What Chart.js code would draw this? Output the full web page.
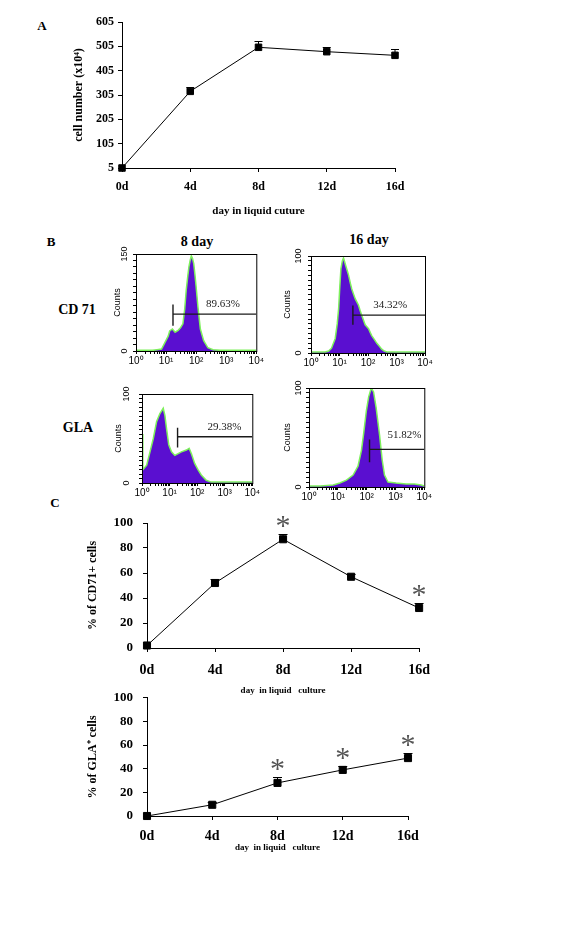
<!DOCTYPE html>
<html>
<head>
<meta charset="utf-8">
<script src="https://cdn.jsdelivr.net/npm/chart.js@4.4.1/dist/chart.umd.min.js"></script>
<style>
body { margin: 0; background: #fff; }
#fig { position: relative; width: 562px; height: 948px; background: #fff; overflow: hidden; }
#fig canvas { position: absolute; }
.lbl { position: absolute; font-family: "Liberation Serif", serif; font-weight: bold; color: #000; white-space: nowrap; transform: translate(-50%, -50%); }
</style>
</head>
<body>
<div id="fig">
  <div class="lbl" style="left:42px;top:26px;font-size:13px">A</div>
  <div class="lbl" style="left:51px;top:242px;font-size:13px">B</div>
  <div class="lbl" style="left:197px;top:242px;font-size:14px">8 day</div>
  <div class="lbl" style="left:369px;top:240px;font-size:14px">16 day</div>
  <div class="lbl" style="left:77px;top:310px;font-size:14px">CD 71</div>
  <div class="lbl" style="left:78px;top:428px;font-size:14px">GLA</div>
  <div class="lbl" style="left:55px;top:503px;font-size:13px">C</div>

  <canvas id="chartA" width="430" height="230" style="left:0;top:0"></canvas>
  <canvas id="h1" width="165" height="130" style="left:100px;top:244px"></canvas>
  <canvas id="h2" width="160" height="130" style="left:275px;top:246px"></canvas>
  <canvas id="h3" width="155" height="120" style="left:106px;top:384px"></canvas>
  <canvas id="h4" width="160" height="130" style="left:273px;top:378px"></canvas>
  <canvas id="chartC1" width="440" height="200" style="left:0;top:500px"></canvas>
  <canvas id="chartC2" width="440" height="180" style="left:0;top:680px"></canvas>
</div>
<script>
// panel A / C : days in liquid culture
var days = ['0d', '4d', '8d', '12d', '16d'];
var cellNumber = [5, 320, 501, 483, 468];
var cellNumberErr = [0, 18, 24, 19, 25];
var cellTicks = [5, 105, 205, 305, 405, 505, 605];

var cd71Percent = [2, 52, 87, 57, 32];
var cd71Err = [0, 3.5, 4, 2, 4];
var cd71Star = [false, false, true, false, true];

var glaPercent = [0, 9.5, 28, 39, 49];
var glaErr = [0, 2.5, 5, 3.5, 4.5];
var glaStar = [false, false, true, true, true];

// panel B : flow histograms, x = log10 fluorescence, y = counts
var cd71D8Log   = [0, 0.3, 0.55, 0.7, 0.85, 0.96, 1.07, 1.12, 1.21, 1.3, 1.4, 1.48, 1.56, 1.62, 1.67, 1.72, 1.76, 1.8, 1.84, 1.88, 1.92, 1.96, 2.0, 2.06, 2.14, 2.25, 2.39, 2.56, 2.8, 3.2, 3.6, 4.0];
var cd71D8Count = [1, 1, 1, 2, 3, 13, 23, 31, 34, 29, 32, 36, 42, 65, 94, 115, 130, 140, 147, 143, 135, 118, 99, 68, 34, 16, 5, 2, 1, 1, 1, 1];
var cd71D8Gate = [1.23, 57, 39, 72];
var cd71D8Label = [2.89, 73];

var cd71D16Log   = [0, 0.3, 0.5, 0.62, 0.72, 0.85, 0.92, 0.97, 1.01, 1.05, 1.1, 1.14, 1.18, 1.22, 1.27, 1.32, 1.38, 1.43, 1.5, 1.55, 1.62, 1.67, 1.72, 1.78, 1.84, 1.9, 1.96, 2.02, 2.08, 2.13, 2.22, 2.31, 2.4, 2.48, 2.57, 2.66, 3.0, 3.5, 4.0];
var cd71D16Count = [1, 1, 1, 2, 5, 15, 30, 46, 68, 87, 95, 98, 94, 90, 85, 80, 72, 66, 60, 56, 52, 49, 44, 39, 34, 29, 27, 25, 21, 18, 14, 10, 7, 4, 2, 1, 1, 1, 1];
var cd71D16Gate = [1.47, 39, 29, 49];
var cd71D16Label = [2.78, 49];

var glaD8Log   = [0, 0.03, 0.17, 0.29, 0.41, 0.53, 0.65, 0.77, 0.83, 0.89, 0.97, 1.07, 1.19, 1.31, 1.43, 1.61, 1.71, 1.79, 1.91, 2.03, 2.15, 2.33, 2.51, 3.0, 3.5, 4.0];
var glaD8Count = [55, 15, 20, 35, 50, 69, 78, 84, 76, 61, 43, 35, 31, 33, 35, 37, 39, 33, 22, 15, 9, 3, 1, 1, 1, 1];
var glaD8Gate = [1.29, 52, 40, 62];
var glaD8Label = [2.99, 63];

var glaD16Log   = [0, 0.4, 0.84, 1.07, 1.3, 1.53, 1.7, 1.82, 1.9, 1.99, 2.07, 2.16, 2.24, 2.33, 2.45, 2.54, 2.62, 2.74, 3.02, 3.37, 3.66, 3.89, 4.0];
var glaD16Count = [1, 1, 2, 4, 7, 12, 21, 37, 55, 77, 91, 100, 96, 80, 52, 27, 12, 5, 4, 3, 3, 2, 1];
var glaD16Gate = [2.10, 38, 25, 48];
var glaD16Label = [3.31, 52];

var serif = '"Liberation Serif", "Times New Roman", serif';
var sans = '"Liberation Sans", Arial, sans-serif';
var sup = ['\u2070', '\u00b9', '\u00b2', '\u00b3', '\u2074'];

Chart.register({
    id: 'errorBars',
    beforeDatasetsDraw: function (chart, args, opts) {
        if (!opts.err) return;
        var meta = chart.getDatasetMeta(0);
        var y = chart.scales.y;
        var vals = chart.data.datasets[0].data;
        var ctx = chart.ctx;
        ctx.save();
        ctx.strokeStyle = '#000';
        ctx.lineWidth = 1;
        meta.data.forEach(function (pt, i) {
            if (!opts.err[i]) return;
            var top = Math.round(y.getPixelForValue(vals[i] + opts.err[i])) + 0.5;
            ctx.beginPath();
            ctx.moveTo(pt.x, pt.y);
            ctx.lineTo(pt.x, top);
            ctx.moveTo(pt.x - opts.cap, top);
            ctx.lineTo(pt.x + opts.cap, top);
            ctx.stroke();
        });
        ctx.restore();
    },
    afterDatasetsDraw: function (chart, args, opts) {
        if (!opts.stars) return;
        var meta = chart.getDatasetMeta(0);
        var y = chart.scales.y;
        var vals = chart.data.datasets[0].data;
        var ctx = chart.ctx;
        ctx.save();
        ctx.fillStyle = '#555';
        ctx.font = '30px ' + serif;
        ctx.textAlign = 'center';
        ctx.textBaseline = 'alphabetic';
        meta.data.forEach(function (pt, i) {
            if (!opts.stars[i]) return;
            var top = y.getPixelForValue(vals[i] + opts.err[i]);
            ctx.fillText('*', pt.x, top + 1);
        });
        ctx.restore();
    }
});

Chart.register({
    id: 'flowBox',
    afterDraw: function (chart, args, opts) {
        if (!opts.yLabels) return;
        var a = chart.chartArea, ctx = chart.ctx;
        ctx.save();
        ctx.strokeStyle = '#000';
        ctx.lineWidth = 1;
        ctx.strokeRect(a.left + 0.5, a.top + 0.5, a.right - a.left, a.bottom - a.top);
        // rotated count labels
        ctx.fillStyle = '#000';
        ctx.font = '9px ' + sans;
        ctx.textAlign = 'center';
        ctx.textBaseline = 'middle';
        opts.yLabels.forEach(function (v) {
            var py = chart.scales.y.getPixelForValue(v);
            ctx.save();
            ctx.translate(a.left - opts.labelOffset, py);
            ctx.rotate(-Math.PI / 2);
            ctx.fillText(String(v), 0, 0);
            ctx.restore();
        });
        // gate percentage
        ctx.fillStyle = '#222';
        ctx.font = '11px ' + serif;
        ctx.fillText(opts.text, chart.scales.x.getPixelForValue(Math.pow(10, opts.at[0])),
            chart.scales.y.getPixelForValue(opts.at[1]));
        ctx.restore();
    }
});

function dayChart(id, values, err, stars, ticks, box) {
    var yScale = {
        min: ticks[0], max: ticks[ticks.length - 1],
        afterBuildTicks: function (s) { s.ticks = ticks.map(function (v) { return { value: v }; }); },
        afterFit: function (s) { s.width = box.left; },
        grid: { drawOnChartArea: false, tickLength: 4, color: '#000' },
        border: { color: '#000' },
        ticks: { color: '#000', font: { family: serif, weight: 'bold', size: box.yFont }, padding: box.yPad },
        title: { display: true, text: box.yTitle, color: '#000', font: { family: serif, weight: 'bold', size: 12 }, padding: { top: box.yTitlePad } }
    };
    return new Chart(document.getElementById(id), {
        type: 'line',
        data: {
            labels: days,
            datasets: [{
                data: values, borderColor: '#000', borderWidth: 1, tension: 0, clip: false,
                pointStyle: 'rect', pointRadius: box.pr, pointBackgroundColor: '#000', pointBorderColor: '#000'
            }]
        },
        options: {
            responsive: false, animation: false, events: [],
            layout: { padding: { left: 0, top: box.top, right: box.right, bottom: 0 } },
            plugins: {
                legend: { display: false }, tooltip: { enabled: false },
                errorBars: { err: err, cap: box.cap, stars: stars }
            },
            scales: {
                x: {
                    afterFit: function (s) { s.height = box.xh; },
                    grid: { drawOnChartArea: false, tickLength: 4, color: '#000' },
                    border: { color: '#000' },
                    ticks: { color: '#000', font: { family: serif, weight: 'bold', size: box.xFont }, padding: box.xPad, maxRotation: 0 },
                    title: { display: true, text: box.xTitle, color: '#000', font: { family: serif, weight: 'bold', size: box.xTitleSize }, padding: { top: 0, bottom: box.xTitlePad } }
                },
                y: yScale
            }
        }
    });
}

dayChart('chartA', cellNumber, cellNumberErr, null, cellTicks, {
    left: 122, top: 22, right: 35, xh: 62, pr: 4.6, cap: 4,
    yFont: 12, yPad: 4, yTitle: 'cell number (x10\u2074)', yTitlePad: 72,
    xFont: 12, xPad: 8, xTitle: 'day in liquid cuture', xTitleSize: 11, xTitlePad: 12
});

dayChart('chartC1', cd71Percent, cd71Err, cd71Star, [0, 20, 40, 60, 80, 100], {
    left: 147, top: 23, right: 20, xh: 52, pr: 5, cap: 4.5,
    yFont: 13, yPad: 10, yTitle: '% of CD71+ cells', yTitlePad: 86,
    xFont: 14, xPad: 10, xTitle: 'day  in liquid   culture', xTitleSize: 9, xTitlePad: 4
});

dayChart('chartC2', glaPercent, glaErr, glaStar, [0, 20, 40, 60, 80, 100], {
    left: 147, top: 10, right: 32, xh: 44, pr: 5, cap: 4.5,
    yFont: 13, yPad: 10, yTitle: '% of GLA\u207a cells', yTitlePad: 86,
    xFont: 14, xPad: 8, xTitle: 'day  in liquid   culture', xTitleSize: 9, xTitlePad: 7
});

function histChart(id, logs, counts, gate, labelAt, text, yMax, yStep, box) {
    var gx = Math.pow(10, gate[0]);
    return new Chart(document.getElementById(id), {
        type: 'scatter',
        data: {
            datasets: [{
                data: logs.map(function (e, i) { return { x: Math.pow(10, e), y: counts[i] }; }),
                showLine: true, fill: 'origin', tension: 0, pointRadius: 0, order: 2,
                borderColor: '#7ef05c', borderWidth: 1.5, backgroundColor: '#5a0fd0'
            }, {
                data: [{ x: gx, y: gate[1] }, { x: 10000, y: gate[1] }],
                showLine: true, pointRadius: 0, borderColor: '#1a1a1a', borderWidth: 1.4, fill: false, order: 1
            }, {
                data: [{ x: gx, y: gate[2] }, { x: gx, y: gate[3] }],
                showLine: true, pointRadius: 0, borderColor: '#1a1a1a', borderWidth: 1.4, fill: false, order: 1
            }]
        },
        options: {
            responsive: false, animation: false, events: [],
            layout: { padding: { left: 0, top: box.top, right: box.right, bottom: 0 } },
            plugins: {
                legend: { display: false }, tooltip: { enabled: false },
                flowBox: { yLabels: [0, yMax], labelOffset: box.labelOffset, text: text, at: labelAt }
            },
            scales: {
                x: {
                    type: 'logarithmic', min: 1, max: 10000,
                    afterBuildTicks: function (s) {
                        var t = [];
                        for (var e = 0; e < 4; e++) {
                            for (var k = 1; k < 10; k++) t.push({ value: k * Math.pow(10, e) });
                        }
                        t.push({ value: 10000 });
                        s.ticks = t;
                    },
                    afterFit: function (s) { s.height = box.xh; },
                    grid: { drawOnChartArea: false, tickLength: 3, color: '#000' },
                    border: { color: '#000' },
                    ticks: {
                        color: '#000', font: { family: sans, size: 10 }, padding: 1, autoSkip: false, maxRotation: 0,
                        callback: function (v) {
                            var e = Math.log10(v);
                            return Math.abs(e - Math.round(e)) < 1e-9 ? '10' + sup[Math.round(e)] : '';
                        }
                    }
                },
                y: {
                    min: 0, max: yMax,
                    afterBuildTicks: function (s) {
                        var t = [];
                        for (var v = 0; v <= yMax; v += yStep) t.push({ value: v });
                        s.ticks = t;
                    },
                    afterFit: function (s) { s.width = 36; },
                    grid: { drawOnChartArea: false, tickLength: 3, color: '#000' },
                    border: { color: '#000' },
                    ticks: { display: false },
                    title: { display: true, text: 'Counts', color: '#000', font: { family: sans, size: 9 }, padding: { top: box.titlePad } }
                }
            }
        }
    });
}

histChart('h1', cd71D8Log, cd71D8Count, cd71D8Gate, cd71D8Label, '89.63%', 150, 10,
    { top: 10, right: 8, xh: 23, labelOffset: 11, titlePad: 12.6 });
histChart('h2', cd71D16Log, cd71D16Count, cd71D16Gate, cd71D16Label, '34.32%', 100, 5,
    { top: 10, right: 10, xh: 23, labelOffset: 12, titlePad: 7.6 });
histChart('h3', glaD8Log, glaD8Count, glaD8Gate, glaD8Label, '29.38%', 100, 5,
    { top: 10, right: 8, xh: 21, labelOffset: 15, titlePad: 7.6 });
histChart('h4', glaD16Log, glaD16Count, glaD16Gate, glaD16Label, '51.82%', 100, 5,
    { top: 10, right: 8, xh: 21, labelOffset: 10, titlePad: 9.6 });
</script>
</body>
</html>
